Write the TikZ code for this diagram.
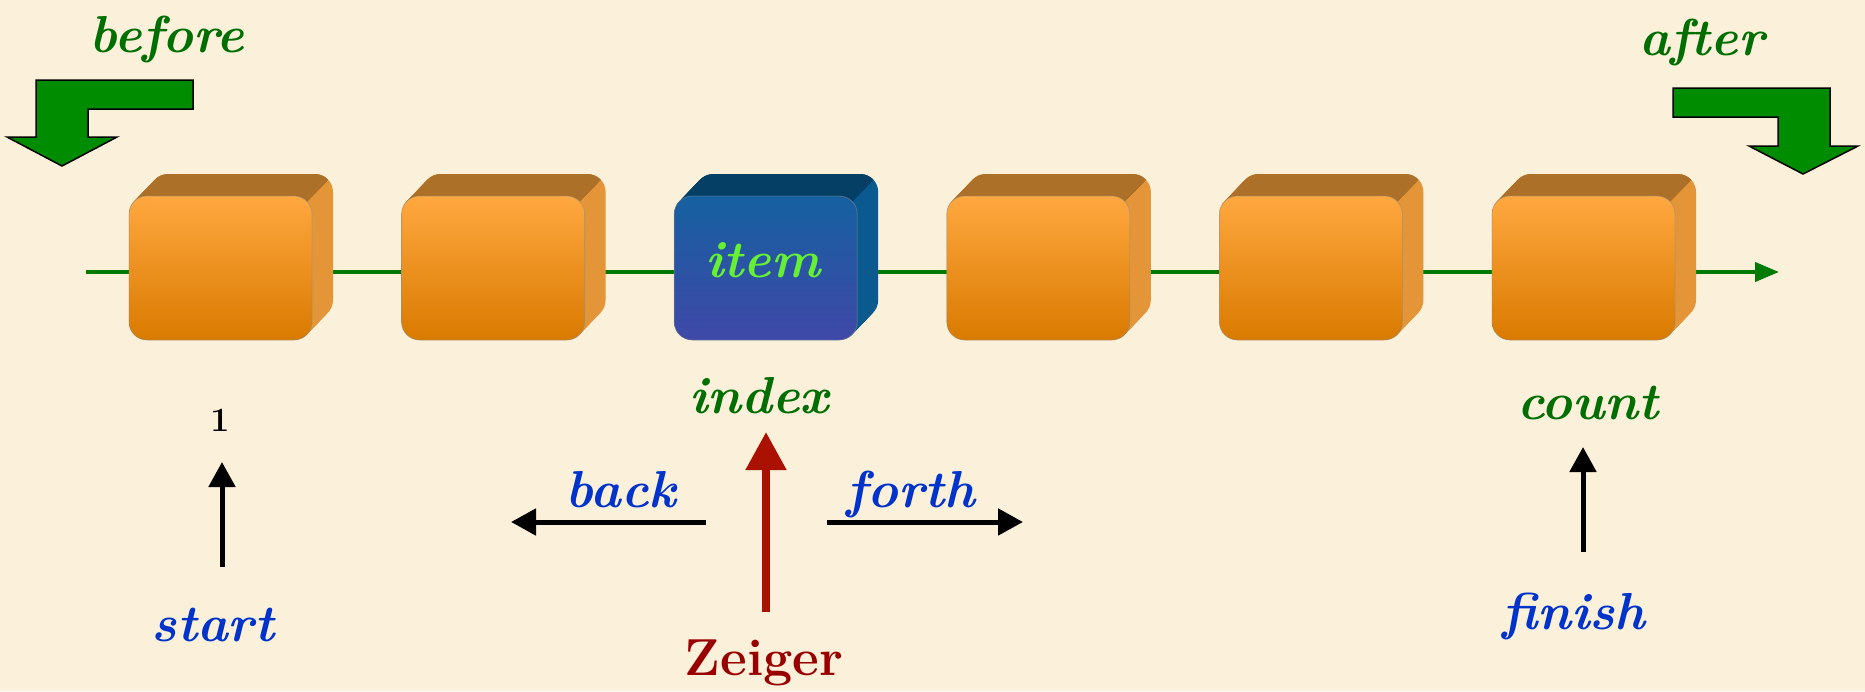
\documentclass[tikz,border=0pt]{standalone}
\usetikzlibrary{arrows.meta}
\definecolor{bg}{RGB}{251,240,217}
\definecolor{dgreen}{RGB}{0,110,0}
\definecolor{linegreen}{RGB}{0,122,0}
\definecolor{arrgreen}{RGB}{0,140,0}
\definecolor{tblue}{RGB}{0,51,204}
\definecolor{itemgreen}{RGB}{102,240,51}
\definecolor{zred}{RGB}{153,0,0}
\definecolor{ared}{RGB}{170,17,0}
\definecolor{otop}{RGB}{173,112,40}
\definecolor{oside}{RGB}{227,149,56}
\definecolor{ofrontT}{RGB}{255,168,64}
\definecolor{ofrontB}{RGB}{217,122,0}
\definecolor{btop}{RGB}{5,63,102}
\definecolor{bside}{RGB}{10,90,144}
\definecolor{bfrontT}{RGB}{21,96,160}
\definecolor{bfrontB}{RGB}{64,72,168}
\newcommand\drawblock[6]{%
  \foreach \i in {0,...,22} {\fill[#4,rounded corners=18pt] ({#2+\i*0.955},{196-\i}) rectangle ++(183,144);}
  \begin{scope}
    \clip ({#2-30},205) -- ({#2+178},201) -- ({#2+238},141) -- ({#2-30},141) -- cycle;
    \foreach \i in {0,...,22} {\fill[#3,rounded corners=18pt] ({#2+\i*0.955},{196-\i}) rectangle ++(183,144);}
  \end{scope}
  \node[blockface, top color=#5, bottom color=#6] (#1) at ({#2+91.5},268) {};
}
\newcommand\tfont{\fontsize{52}{56}\selectfont\bfseries\itshape}
\tikzset{
  blockface/.style={draw=black!45, draw opacity=0.5, line width=0.8pt, rounded corners=18pt,
    minimum width=183pt, minimum height=144pt, inner sep=0pt},
  lbl/.style={anchor=base, inner sep=0pt, font=\tfont},
  blockarrow/.style={fill=arrgreen, draw=black, line width=1.5pt, line join=miter},
  ptr/.style={draw=black, line width=5pt, -{Triangle[length=25pt,width=26pt]}},
}
\begin{document}
\begin{tikzpicture}[x=1pt,y=-1pt]
\useasboundingbox (0,0) rectangle (1865,691);
\fill[bg] (0,0) rectangle (1865,691);
% main line
\coordinate (gl0) at (86,272);
\coordinate (gl1) at (1779,272);
\draw[linegreen, line width=4pt, -{Triangle[length=24pt,width=19pt]}] (gl0) -- (gl1);
% blocks
\drawblock{b1}{129}{otop}{oside}{ofrontT}{ofrontB}
\drawblock{b2}{401.6}{otop}{oside}{ofrontT}{ofrontB}
\drawblock{b3}{674.2}{btop}{bside}{bfrontT}{bfrontB}
\drawblock{b4}{946.8}{otop}{oside}{ofrontT}{ofrontB}
\drawblock{b5}{1219.4}{otop}{oside}{ofrontT}{ofrontB}
\drawblock{b6}{1492}{otop}{oside}{ofrontT}{ofrontB}
\node[lbl, text=itemgreen] (itemtxt) at (763,277) {item};
% before / after
\node[lbl, text=dgreen] (before) at (167,52) {before};
\node[lbl, text=dgreen] (after) at (1702,55) {after};
\filldraw[blockarrow] (36,80) -- (193,80) -- (193,109) -- (88,109) -- (88,137) -- (117,137) -- (62,166) -- (7,137) -- (36,137) -- cycle;
\filldraw[blockarrow] (1673,88) -- (1830,88) -- (1830,146) -- (1858,146) -- (1803,174) -- (1749,146) -- (1778,146) -- (1778,117) -- (1673,117) -- cycle;
% labels
\node[lbl, text=dgreen] (index) at (759,413) {index};
\node[lbl, text=dgreen] (count) at (1588,419) {count};
\node[anchor=base, inner sep=0pt, font=\fontsize{34}{36}\selectfont\bfseries] (one) at (220,431) {1};
\node[lbl, text=tblue] (start) at (213,641) {start};
\node[lbl, text=tblue] (finish) at (1574,629) {finish};
\node[lbl, text=tblue] (back) at (621,507) {back};
\node[lbl, text=tblue] (forth) at (911,507) {forth};
\node[anchor=base, inner sep=0pt, text=zred, font=\fontsize{52}{56}\selectfont\bfseries] (zeiger) at (764,675) {Zeiger};
% arrows
\coordinate (s0) at (222,567); \coordinate (s1) at (222,462);
\coordinate (f0) at (1583,552); \coordinate (f1) at (1583,447);
\coordinate (k0) at (706,522); \coordinate (k1) at (511,522);
\coordinate (h0) at (827,522); \coordinate (h1) at (1023,522);
\coordinate (z0) at (766,612); \coordinate (z1) at (766,432);
\draw[ptr] (s0) -- (s1);
\draw[ptr] (f0) -- (f1);
\draw[ptr] (k0) -- (k1);
\draw[ptr] (h0) -- (h1);
\draw[draw=ared, line width=8pt, -{Triangle[length=38pt,width=39pt]}] (z0) -- (z1);
\end{tikzpicture}
\end{document}
